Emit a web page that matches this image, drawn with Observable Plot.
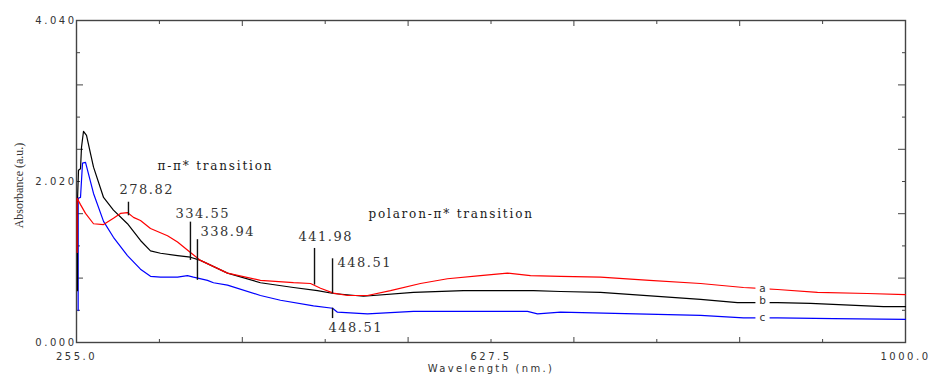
<!DOCTYPE html>
<html><head><meta charset="utf-8">
<script src="https://cdn.jsdelivr.net/npm/d3@7"></script>
<script src="https://cdn.jsdelivr.net/npm/@observablehq/plot@0.6"></script>
<style>
html,body{margin:0;padding:0;background:#fff;}
#chart svg{display:block;}
</style></head><body><div id="chart"></div>
<script>
// Curve a (red)
const wlA = [255.6, 255.6, 258.6, 263.1, 270.3, 279.3, 288.2, 294.5, 300.8, 306.2, 312.5, 321.5, 336.8, 345.8, 357.4, 366.4, 390.7, 420.3, 450.0, 465.3, 474.3, 485.9, 498.5, 516.5, 537.2, 564.1, 588.4, 618.0, 642.3, 663.0, 690.0, 725.9, 770.0, 815.8, 854.4, 885.0, 920.9, 965.8, 1000];
const absA = [1.13, 1.81, 1.73, 1.62, 1.49, 1.48, 1.56, 1.62, 1.63, 1.57, 1.53, 1.43, 1.34, 1.26, 1.13, 1.03, 0.87, 0.78, 0.75, 0.74, 0.68, 0.62, 0.59, 0.59, 0.65, 0.74, 0.80, 0.84, 0.87, 0.84, 0.83, 0.82, 0.78, 0.74, 0.69, 0.665, 0.63, 0.615, 0.60];
// Curve b (black)
const wlB = [255.9, 255.9, 256.8, 258.6, 259.5, 261.3, 264.0, 267.6, 270.3, 279.3, 288.2, 300.8, 312.5, 321.5, 330.5, 345.8, 357.4, 366.4, 390.7, 420.3, 450.0, 471.6, 485.9, 512.9, 557.8, 602.8, 665.7, 690.0, 725.9, 815.8, 849.0, 885.0, 914.6, 980.2, 1000];
const absB = [0.65, 1.78, 2.16, 2.18, 2.45, 2.65, 2.60, 2.37, 2.20, 1.82, 1.66, 1.49, 1.28, 1.15, 1.12, 1.09, 1.07, 1.03, 0.87, 0.75, 0.69, 0.65, 0.615, 0.58, 0.63, 0.65, 0.65, 0.64, 0.63, 0.54, 0.50, 0.50, 0.49, 0.45, 0.45];
// Curve c (blue)
const wlC = [256.5, 256.5, 258.6, 260.4, 263.1, 270.3, 279.3, 288.2, 300.8, 312.5, 321.5, 330.5, 345.8, 354.7, 360.1, 372.7, 378.1, 390.7, 420.3, 438.3, 468.0, 485.1, 489.5, 516.5, 557.8, 618.0, 660.3, 669.3, 690.0, 815.8, 854.4, 885.0, 935.3, 1000];
const absC = [0.40, 1.81, 1.82, 2.25, 2.26, 1.87, 1.52, 1.32, 1.09, 0.92, 0.83, 0.82, 0.82, 0.84, 0.82, 0.78, 0.75, 0.72, 0.59, 0.53, 0.46, 0.43, 0.38, 0.36, 0.39, 0.39, 0.39, 0.36, 0.38, 0.34, 0.31, 0.31, 0.30, 0.29];

// Axis ticks and labels
const xMajor = [255, 404, 553, 702, 851, 1000];
const xMinor = [329.5, 478.5, 627.5, 776.5, 925.5];
const xLabels = [255, 627.5, 1000];
const yMajor = [0, 0.808, 1.616, 2.424, 3.232, 4.04];
const yMinor = [0.404, 1.212, 2.02, 2.828, 3.636];
const yLabels = [0, 2.02, 4.04];
const xTitle = "Wavelength (nm.)";
const yTitle = "Absorbance (a.u.)";

// Peak annotations
const peakText = ["278.82", "334.55", "338.94", "441.98", "448.51", "448.51"];
const peakWl = [301.7, 357.4, 363.7, 468.9, 485.1, 485.1];
const peakTop = [1.76, 1.51, 1.29, 1.18, 1.05, 0.43];
const peakBottom = [1.59, 1.03, 0.78, 0.72, 0.615, 0.30];
const peakLabelWl = [293.6, 344.0, 366.4, 454.5, 489.5, 481.5];
const peakLabelAbs = [1.91, 1.62, 1.39, 1.33, 1.00, 0.19];

const transText = ["π-π* transition", "polaron-π* transition"];
const transWl = [327.8, 517.4];
const transAbs = [2.21, 1.61];

const seriesNames = ["a", "b", "c"];
const seriesLabelWl = [871.5, 871.5, 871.5];
const seriesLabelAbs = [0.675, 0.52, 0.317];

const toRows = (w, a) => w.map((x, i) => ({wl: x, abs: a[i]}));
const rowsA = toRows(wlA, absA), rowsB = toRows(wlB, absB), rowsC = toRows(wlC, absC);
const peaks = peakText.map((t, i) => ({t, x: peakWl[i], y1: peakTop[i], y2: peakBottom[i], lx: peakLabelWl[i], ly: peakLabelAbs[i]}));
const trans = transText.map((t, i) => ({t, x: transWl[i], y: transAbs[i]}));
const sLabels = seriesNames.map((t, i) => ({t, x: seriesLabelWl[i], y: seriesLabelAbs[i]}));

const frameColor = "#444";
const sans = "DejaVu Sans, Verdana, sans-serif";
const serif = "DejaVu Serif, Georgia, serif";
const noText = () => "";
const chart = Plot.plot({
  width: 929, height: 374,
  marginLeft: 76, marginRight: 24, marginTop: 20, marginBottom: 32,
  x: {domain: [255, 1000], axis: null, label: null},
  y: {domain: [0, 4.04], axis: null, label: null},
  style: {fontFamily: sans, fontSize: "10px", background: "white", overflow: "visible"},
  marks: [
    // ticks inward on all four sides
    Plot.axisX(xMajor, {anchor: "bottom", tickSize: 5, dy: -5, tickFormat: noText, label: null, stroke: frameColor}),
    Plot.axisX(xMinor, {anchor: "bottom", tickSize: 3, dy: -3, tickFormat: noText, label: null, stroke: frameColor}),
    Plot.axisX(xMajor, {anchor: "top", tickSize: 5, dy: 5, tickFormat: noText, label: null, stroke: frameColor}),
    Plot.axisX(xMinor, {anchor: "top", tickSize: 3, dy: 3, tickFormat: noText, label: null, stroke: frameColor}),
    Plot.axisY(yMajor, {anchor: "left", tickSize: 7, dx: 7, tickFormat: noText, label: null, stroke: frameColor}),
    Plot.axisY(yMinor, {anchor: "left", tickSize: 4, dx: 4, tickFormat: noText, label: null, stroke: frameColor}),
    Plot.axisY(yMajor, {anchor: "right", tickSize: 8, dx: -8, tickFormat: noText, label: null, stroke: frameColor}),
    Plot.axisY(yMinor, {anchor: "right", tickSize: 4, dx: -4, tickFormat: noText, label: null, stroke: frameColor}),
    Plot.frame({stroke: frameColor, strokeWidth: 1.4}),
    // tick labels
    Plot.text(xLabels, {x: d => d, frameAnchor: "bottom", dy: 17, text: d => d.toFixed(1), fill: "#333", fontSize: 10, fontFamily: sans}),
    Plot.text(yLabels, {y: d => d, frameAnchor: "left", dx: 0, textAnchor: "end", text: d => d.toFixed(3), fill: "#333", fontSize: 10, fontFamily: sans}),
    Plot.text([xTitle], {frameAnchor: "bottom", dy: 29, fill: "#333", fontSize: 10, fontFamily: sans}),
    Plot.text([yTitle], {frameAnchor: "left", textAnchor: "middle", lineAnchor: "middle", dx: -57, dy: 4, rotate: -90, fill: "#333", fontSize: 12, fontFamily: "Liberation Serif, Times New Roman, serif"}),
    // curves
    Plot.line(rowsC, {x: "wl", y: "abs", stroke: "#0000ff", strokeWidth: 1.2}),
    Plot.line(rowsB, {x: "wl", y: "abs", stroke: "#000000", strokeWidth: 1.2}),
    Plot.line(rowsA, {x: "wl", y: "abs", stroke: "#ff0000", strokeWidth: 1.2}),
    // peak markers
    Plot.ruleX(peaks, {x: "x", y1: "y1", y2: "y2", stroke: "#111", strokeWidth: 1.4}),
    Plot.text(peaks, {x: "lx", y: "ly", text: "t", textAnchor: "start", fill: "#333", fontSize: 13, fontFamily: serif}),
    Plot.text(trans, {x: "x", y: "y", text: "t", textAnchor: "start", fill: "#1a1a1a", fontSize: 12, fontFamily: serif}),
    // series labels: white gaps cut into the lines, then glyphs
    Plot.dot(sLabels, {x: "x", y: "y", symbol: "square", r: 8, fill: "white", stroke: null}),
    Plot.text(sLabels, {x: "x", y: "y", text: "t", fill: "#333", fontSize: 10.5, fontFamily: sans})
  ]
});
// letter spacing to mimic the stretched original lettering
const tickStrings = new Set([...xLabels.map(d => d.toFixed(1)), ...yLabels.map(d => d.toFixed(3))]);
const peakStrings = new Set(peakText);
const transStrings = new Set(transText);
d3.select(chart).selectAll("text").each(function() {
  const t = this.textContent;
  let ls = null;
  if (tickStrings.has(t)) ls = "2.5px";
  else if (t === xTitle) ls = "2.3px";
  else if (peakStrings.has(t)) ls = "1.5px";
  else if (transStrings.has(t)) ls = "1.8px";
  if (ls) this.style.letterSpacing = ls;
});
document.getElementById("chart").appendChild(chart);
</script></body></html>
